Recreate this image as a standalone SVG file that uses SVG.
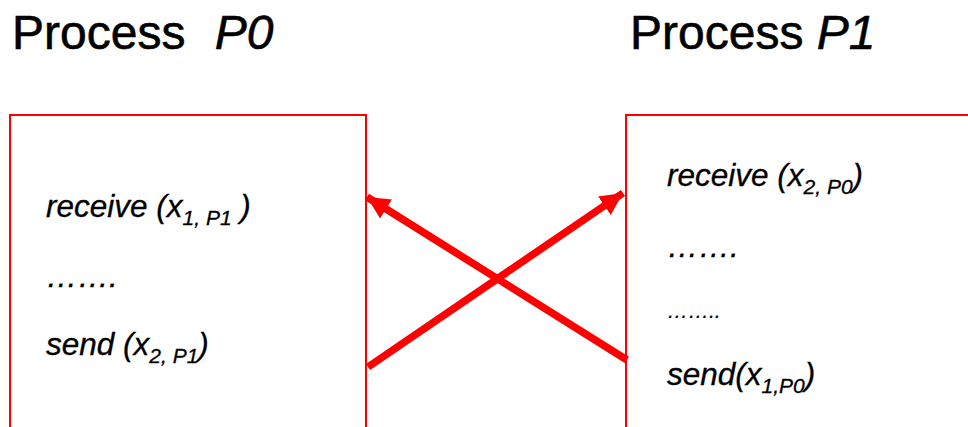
<svg xmlns="http://www.w3.org/2000/svg" width="968" height="427" viewBox="0 0 968 427">
<style>
.title{font-family:"Liberation Sans",Arial,sans-serif;font-size:48px;fill:#000;stroke:#000;stroke-width:0.6}
.it{font-style:italic}
.body{font-family:"Liberation Sans",Arial,sans-serif;font-size:31.5px;font-style:italic;fill:#000;stroke:#000;stroke-width:0.3}
.sub{font-size:21px}
.box{fill:none;stroke:#ff0000;stroke-width:2}
.conn{stroke:#ff0000;stroke-width:7.5;fill:none}
</style>
<defs>
<marker id="ah" viewBox="0 0 10 10" refX="10" refY="5" markerWidth="3" markerHeight="3.3" markerUnits="strokeWidth" orient="auto">
<path d="M0,0 L10,5 L0,10 z" fill="#ff0000"/>
</marker>
</defs>
<rect width="968" height="427" fill="#fff"/>
<g id="title-p0"><text class="title" x="12" y="49">Process <tspan class="it" dx="16">P0</tspan></text></g>
<g id="title-p1"><text class="title" x="630" y="49">Process <tspan class="it">P1</tspan></text></g>
<g id="p0">
<rect class="box" x="10" y="115" width="356" height="330"/>
<text class="body" x="46" y="217">receive (x<tspan class="sub" dy="8">1, P1</tspan><tspan dy="-8"> )</tspan></text>
<text class="body" x="46" y="287">…….</text>
<text class="body" x="46" y="355">send (x<tspan class="sub" dy="8">2, P1</tspan><tspan dy="-8">)</tspan></text>
</g>
<g id="p1">
<rect class="box" x="626" y="115" width="360" height="330"/>
<text class="body" x="667" y="186">receive (x<tspan class="sub" dy="8">2, P0</tspan><tspan dy="-8">)</tspan></text>
<text class="body" x="667" y="257">…….</text>
<text class="body" x="667" y="318" style="font-size:21px;stroke-width:0.2">……..</text>
<text class="body" x="667" y="385">send(x<tspan class="sub" dy="8">1,P0</tspan><tspan dy="-8">)</tspan></text>
</g>
<g id="connectors">
<line class="conn" x1="627" y1="360" x2="367" y2="197" marker-end="url(#ah)"/>
<line class="conn" x1="368" y1="367" x2="623" y2="193" marker-end="url(#ah)"/>
</g>
</svg>
